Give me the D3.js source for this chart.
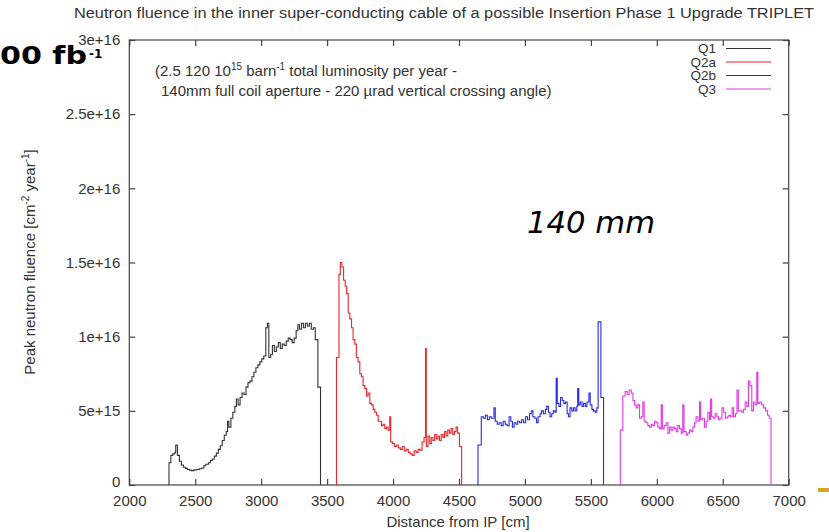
<!DOCTYPE html>
<html>
<head>
<meta charset="utf-8">
<script src="https://cdn.jsdelivr.net/npm/d3@7"></script>
<style>
  body { margin: 0; background: #fff; }
  text { font-family: "Liberation Sans", Arial, sans-serif; fill: #333; }
</style>
</head>
<body>
<div id="chart"></div>
<script>
// fluence values are in units of 1e15 cm^-2 year^-1, x = left edge of each bin [cm]
var q1Bins = [[2301,1.5],[2315,2.0],[2330,2.1],[2345,2.2],[2352,2.7],[2365,2.0],[2380,1.6],[2395,1.35],[2410,1.2],[2425,1.12],
  [2440,1.05],[2455,1.0],[2470,0.97],[2490,1.02],[2510,1.05],[2530,1.1],[2550,1.15],[2565,1.3],[2580,1.4],[2600,1.5],
  [2615,1.65],[2630,1.75],[2645,1.95],[2660,2.15],[2675,2.4],[2690,2.65],[2705,3.0],[2720,3.35],[2735,3.6],[2745,4.3],
  [2755,3.9],[2770,4.5],[2785,4.9],[2800,5.3],[2812,5.8],[2825,5.4],[2840,5.9],[2855,6.2],[2870,6.1],[2885,6.6],
  [2900,6.9],[2915,7.0],[2930,7.3],[2945,7.6],[2960,7.9],[2975,8.1],[2990,8.3],[3005,8.5],[3020,8.7],[3035,10.6],
  [3047,10.9],[3058,8.6],[3072,8.8],[3085,9.4],[3100,9.0],[3115,9.3],[3130,9.6],[3145,9.2],[3160,9.5],[3175,9.4],
  [3190,9.7],[3205,9.9],[3220,9.8],[3235,9.6],[3250,9.9],[3265,10.4],[3278,10.8],[3290,10.5],[3305,10.9],[3320,10.6],
  [3335,10.9],[3350,10.7],[3365,10.9],[3380,10.5],[3395,10.6],[3410,9.8],[3430,6.6]]
var q1End = 3450

var q2aBins = [[3571,8.6],[3590,14.2],[3600,15.0],[3612,14.7],[3625,13.8],[3637,13.4],[3648,12.9],[3660,11.6],[3672,11.2],[3685,10.6],
  [3697,9.8],[3710,9.5],[3722,8.6],[3735,8.3],[3748,7.5],[3760,7.3],[3773,6.7],[3786,6.5],[3799,6.0],[3811,6.2],
  [3824,5.5],[3836,5.4],[3849,5.1],[3862,4.9],[3874,4.7],[3887,4.3],[3900,4.3],[3912,4.0],[3925,4.1],[3937,3.8],
  [3950,3.9],[3962,3.7],[3975,4.6],[3982,2.9],[3995,2.8],[4010,2.6],[4025,2.7],[4040,2.5],[4055,2.4],[4070,2.6],
  [4085,2.3],[4100,2.4],[4115,2.2],[4130,2.1],[4145,2.0],[4160,2.3],[4175,2.2],[4190,2.4],[4205,2.35],[4220,2.9],
  [4235,3.2],[4246,9.2],[4252,2.6],[4265,3.3],[4278,2.8],[4290,3.2],[4302,3.0],[4315,3.4],[4328,3.1],[4340,3.3],
  [4352,3.0],[4365,3.4],[4378,3.2],[4390,3.6],[4403,3.3],[4415,3.7],[4428,3.5],[4440,3.8],[4453,3.4],[4465,3.6],
  [4478,3.9],[4490,3.5],[4503,2.6]]
var q2aEnd = 4520

var q2bBins = [[4644,2.7],[4669,4.6],[4685,4.5],[4700,4.7],[4715,4.4],[4730,4.6],[4745,4.5],[4765,5.2],[4775,4.3],[4790,4.1],
  [4805,4.2],[4820,4.0],[4835,4.3],[4850,4.1],[4865,4.0],[4880,4.6],[4893,4.3],[4905,3.9],[4918,4.2],[4932,4.1],
  [4945,4.3],[4960,4.2],[4975,4.4],[4990,4.2],[5005,4.6],[5020,4.4],[5035,4.8],[5048,5.0],[5060,4.6],[5075,4.5],
  [5088,4.2],[5100,4.6],[5115,4.8],[5125,5.0],[5140,4.8],[5155,5.1],[5165,5.3],[5178,4.9],[5190,4.6],[5203,4.8],
  [5215,5.0],[5228,4.9],[5237,7.2],[5245,5.5],[5258,5.3],[5270,5.9],[5283,5.7],[5295,5.5],[5308,5.6],[5320,4.8],
  [5330,4.6],[5342,5.2],[5355,5.0],[5368,5.2],[5380,5.0],[5393,5.3],[5400,6.5],[5408,5.4],[5420,5.6],[5433,5.3],
  [5445,5.5],[5458,5.3],[5470,5.6],[5485,6.2],[5495,5.4],[5508,5.1],[5520,5.0],[5533,4.9],[5545,5.2],[5555,11.0],
  [5576,5.9]]
var q2bEnd = 5596

var q3Bins = [[5723,3.7],[5742,6.0],[5760,6.3],[5775,6.1],[5790,6.4],[5806,6.2],[5819,5.7],[5832,5.4],[5844,5.2],[5856,5.4],
  [5869,4.5],[5882,4.6],[5894,5.6],[5904,4.3],[5918,4.2],[5932,4.0],[5945,3.9],[5958,4.1],[5970,4.0],[5983,4.3],
  [5995,4.2],[6008,3.9],[6021,3.8],[6033,5.4],[6042,3.8],[6055,4.0],[6071,4.2],[6084,3.5],[6097,3.9],[6109,3.7],
  [6122,3.9],[6134,3.8],[6147,3.6],[6159,4.0],[6172,3.8],[6185,3.5],[6197,5.4],[6206,3.6],[6223,3.35],[6235,3.5],
  [6248,3.7],[6260,3.6],[6273,3.9],[6286,4.2],[6298,4.6],[6312,4.3],[6324,5.6],[6332,4.4],[6345,4.5],[6361,3.9],
  [6374,4.3],[6387,4.9],[6400,4.4],[6407,5.8],[6416,4.6],[6430,4.5],[6442,4.8],[6455,4.6],[6468,4.4],[6480,4.5],
  [6494,5.2],[6507,4.9],[6520,4.5],[6533,4.6],[6545,4.7],[6558,4.6],[6571,5.2],[6582,4.6],[6596,4.8],[6608,6.4],
  [6618,5.0],[6632,5.0],[6645,4.9],[6658,5.1],[6670,5.6],[6683,5.3],[6695,7.0],[6706,6.7],[6720,5.0],[6733,5.6],
  [6745,5.4],[6758,7.6],[6766,5.5],[6780,5.6],[6795,5.4],[6810,5.2],[6825,5.0],[6840,4.7],[6852,4.5]]
var q3End = 6866

var seriesNames = ["Q1", "Q2a", "Q2b", "Q3"]
var seriesColors = ["#333333", "#e8262b", "#2a2ae0", "#e23ae2"]
var xTicks = [2000, 2500, 3000, 3500, 4000, 4500, 5000, 5500, 6000, 6500, 7000]
var yTicks = [0, 5, 10, 15, 20, 25, 30]
var yTickLabels = ["0", "5e+15", "1e+16", "1.5e+16", "2e+16", "2.5e+16", "3e+16"]

var width = 829
    height = 532

var svg = d3.select("#chart")
  .append("svg")
    .attr("width", width)
    .attr("height", height)

var x = d3.scaleLinear().domain([2000, 7000]).range([129.3, 788.7])
var y = d3.scaleLinear().domain([0, 30]).range([485, 40])

// frame
svg.append("rect")
  .attr("x", x(2000)).attr("y", y(30))
  .attr("width", x(7000) - x(2000)).attr("height", y(0) - y(30))
  .attr("fill", "none").attr("stroke", "#444").attr("stroke-width", 1.2)

// axes, ticks pointing inside
svg.append("g")
  .attr("transform", "translate(0," + y(0) + ")")
  .call(d3.axisBottom(x).tickValues(xTicks).tickSizeInner(-6).tickSizeOuter(0).tickPadding(10).tickFormat(d3.format("d")))
svg.append("g")
  .attr("transform", "translate(0," + y(30) + ")")
  .call(d3.axisTop(x).tickValues(xTicks).tickSizeInner(-6).tickSizeOuter(0).tickFormat(""))
var yAxis = svg.append("g")
  .attr("transform", "translate(" + x(2000) + ",0)")
  .call(d3.axisLeft(y).tickValues(yTicks).tickSizeInner(-6).tickSizeOuter(0).tickPadding(9)
    .tickFormat(function(d, i) { return yTickLabels[i] }))
svg.append("g")
  .attr("transform", "translate(" + x(7000) + ",0)")
  .call(d3.axisRight(y).tickValues(yTicks).tickSizeInner(-6).tickSizeOuter(0).tickFormat(""))

svg.selectAll(".domain").remove()
svg.selectAll(".tick line").attr("stroke", "#444").attr("stroke-width", 1.2)
svg.selectAll(".tick text").style("font-size", "15px").attr("fill", "#333")
// the "0" sits just above "2000", lift it a little
yAxis.selectAll(".tick text").filter(function(d) { return d == 0 }).attr("dy", "0.1em")

// histogram lines
var line = d3.line()
  .x(function(d) { return x(d[0]) })
  .y(function(d) { return y(d[1]) })
  .curve(d3.curveStepAfter)

function stepPoints(bins, end) {
  var pts = [[bins[0][0], 0]].concat(bins)
  pts.push([end, bins[bins.length - 1][1]])
  pts.push([end, 0])
  return pts
}

var allSeries = [stepPoints(q1Bins, q1End), stepPoints(q2aBins, q2aEnd), stepPoints(q2bBins, q2bEnd), stepPoints(q3Bins, q3End)]

svg.selectAll("path.hist")
  .data(allSeries)
  .enter()
  .append("path")
    .attr("class", "hist")
    .attr("d", line)
    .attr("fill", "none")
    .attr("stroke", function(d, i) { return seriesColors[i] })
    .attr("stroke-width", 1.1)

// legend
var legend = svg.selectAll("g.leg")
  .data(seriesNames)
  .enter()
  .append("g")
    .attr("class", "leg")
    .attr("transform", function(d, i) { return "translate(0," + (48.5 + i * 13.5) + ")" })
legend.append("text")
  .attr("x", 716).attr("y", 4.5)
  .attr("text-anchor", "end")
  .style("font-size", "13.5px")
  .text(function(d) { return d })
legend.append("line")
  .attr("x1", 726).attr("x2", 771)
  .attr("stroke", function(d, i) { return seriesColors[i] })
  .attr("stroke-width", 1.2)

// title
svg.append("text")
  .attr("x", 444).attr("y", 18)
  .attr("text-anchor", "middle")
  .style("font-size", "15.5px")
  .attr("textLength", 740).attr("lengthAdjust", "spacingAndGlyphs")
  .text("Neutron fluence in the inner super-conducting cable of a possible Insertion Phase 1 Upgrade TRIPLET")

// axis titles
svg.append("text")
  .attr("x", 458).attr("y", 527)
  .attr("text-anchor", "middle")
  .style("font-size", "15px")
  .text("Distance from IP [cm]")

var yl = svg.append("text")
  .attr("transform", "translate(35,262) rotate(-90)")
  .attr("text-anchor", "middle")
  .style("font-size", "15px")
yl.append("tspan").text("Peak neutron fluence [cm")
yl.append("tspan").attr("dy", -6).style("font-size", "10px").text("-2")
yl.append("tspan").attr("dy", 6).text(" year")
yl.append("tspan").attr("dy", -6).style("font-size", "10px").text("-1")
yl.append("tspan").attr("dy", 6).text("]")

// note inside the plot
var n1 = svg.append("text").attr("x", 155).attr("y", 76).style("font-size", "15px")
n1.append("tspan").text("(2.5 120 10")
n1.append("tspan").attr("dy", -6).style("font-size", "10px").text("15")
n1.append("tspan").attr("dy", 6).text(" barn")
n1.append("tspan").attr("dy", -6).style("font-size", "10px").text("-1")
n1.append("tspan").attr("dy", 6).text(" total luminosity per year -")
svg.append("text").attr("x", 161).attr("y", 96).style("font-size", "15px")
  .text("140mm full coil aperture - 220 \u00b5rad vertical crossing angle)")

// slide overlays
svg.append("text").attr("x", 0).attr("y", 64)
  .style("font-family", "'DejaVu Sans', Verdana, sans-serif").style("font-weight", "bold")
  .style("font-size", "24px").style("fill", "#000")
  .attr("textLength", 87).attr("lengthAdjust", "spacingAndGlyphs")
  .text("00 fb")
svg.append("text").attr("x", 89).attr("y", 58)
  .style("font-family", "'DejaVu Sans', Verdana, sans-serif").style("font-weight", "bold")
  .style("font-size", "12px").style("fill", "#000").text("-1")

svg.append("text").attr("x", 527).attr("y", 233)
  .style("font-family", "'DejaVu Sans', Verdana, sans-serif").style("font-style", "italic")
  .style("font-size", "31px").style("fill", "#000")
  .attr("textLength", 128).attr("lengthAdjust", "spacingAndGlyphs")
  .text("140 mm")

svg.append("rect").attr("x", 818).attr("y", 488).attr("width", 11).attr("height", 4).attr("fill", "#d9a521")
</script>
</body>
</html>
